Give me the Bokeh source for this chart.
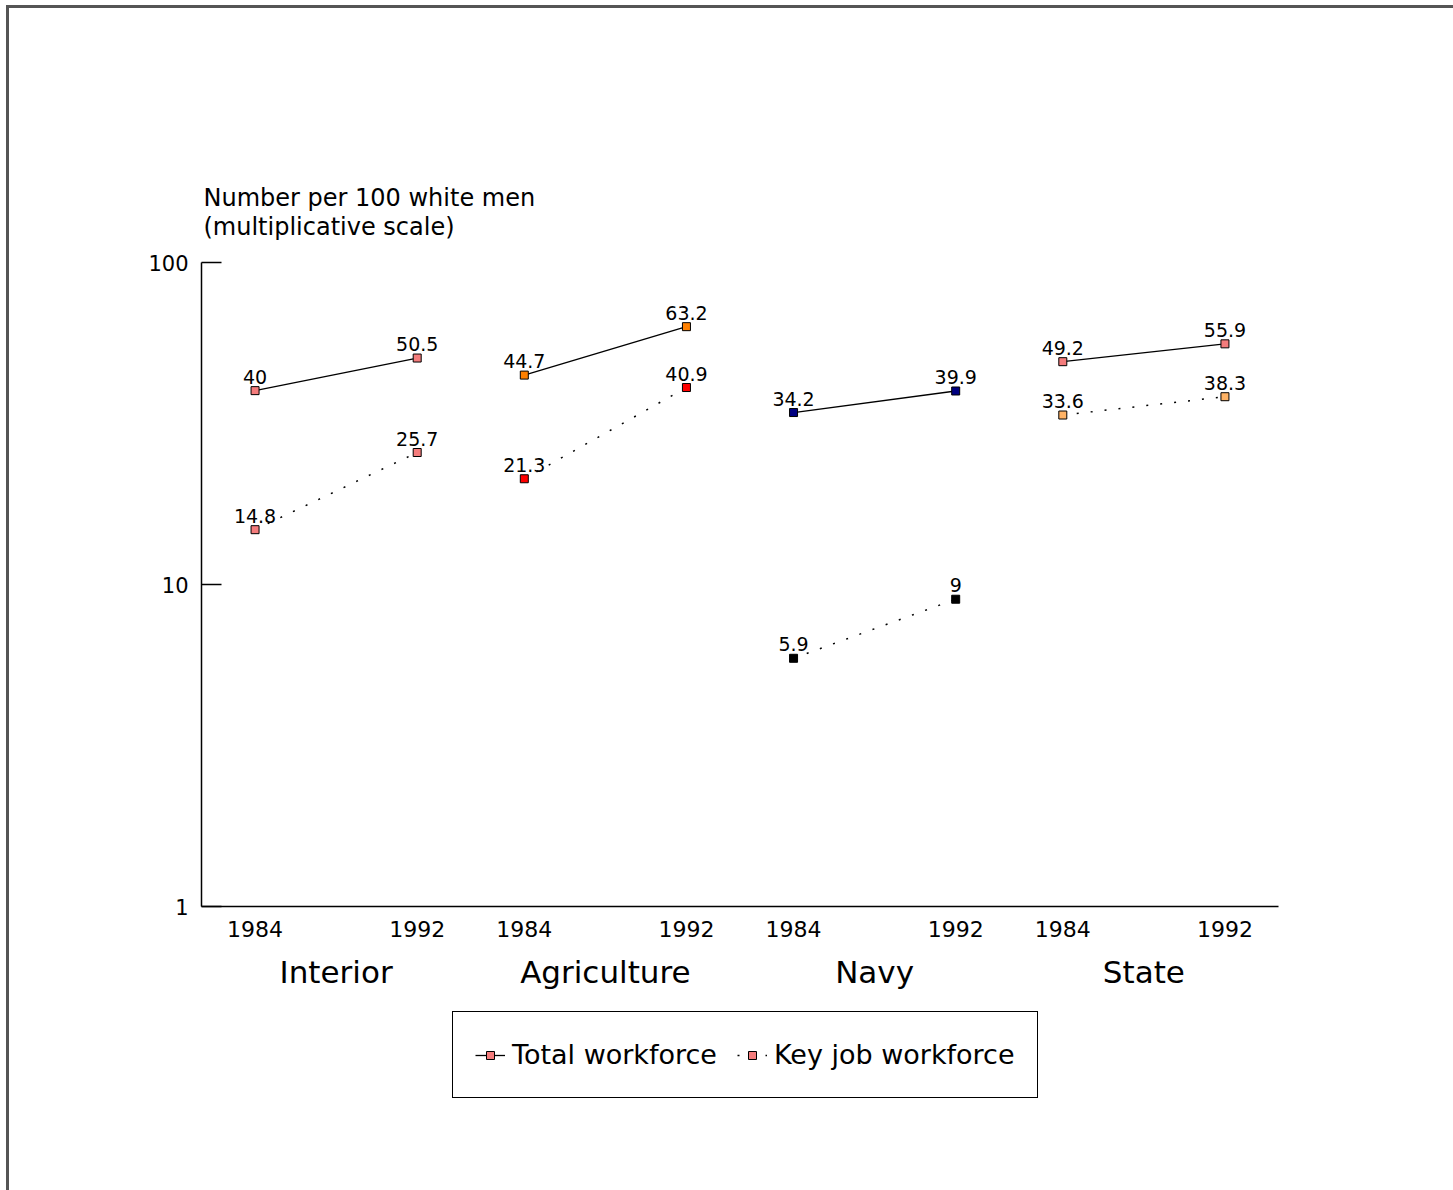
from bokeh.plotting import figure
from bokeh.layouts import column
from bokeh.models import (FactorRange, Range1d, FixedTicker, PrintfTickFormatter, Title,
                          Legend, LegendItem, ColumnDataSource)
from bokeh.core.properties import value
from bokeh.embed import file_html
from bokeh.resources import INLINE

# ---------------- data ----------------
departments = ["Interior", "Agriculture", "Navy", "State"]
years = ["1984", "1992"]
total_1984 = [40, 44.7, 34.2, 49.2]
total_1992 = [50.5, 63.2, 39.9, 55.9]
key_1984 = [14.8, 21.3, 5.9, 33.6]
key_1992 = [25.7, 40.9, 9, 38.3]
y_ticks = [1, 10, 100]
axis_title = ["Number per 100 white men", "(multiplicative scale)"]
series_names = ["Total workforce", "Key job workforce"]

# marker colours per department
total_colors = ["#f47c7c", "#ff8000", "#000080", "#f47c7c"]
key_colors = ["#f47c7c", "#ff0000", "#000000", "#ffb366"]
legend_color = "#f47c7c"

FONT = "DejaVu Sans"

factors = [(d, y) for d in departments for y in years]
x_range = FactorRange(*factors, factor_padding=0.514, group_padding=0, range_padding=0)

p = figure(width=1444, height=997, x_range=x_range, y_range=Range1d(1, 100),
           y_axis_type="log", output_backend="svg", toolbar_location=None,
           min_border_left=192, min_border_right=175, min_border_top=254,
           min_border_bottom=99, outline_line_color=None)
p.title.visible = False
p.xgrid.visible = False
p.ygrid.visible = False

# y axis
ya = p.yaxis[0]
ya.ticker = FixedTicker(ticks=y_ticks, minor_ticks=[])
ya.formatter = PrintfTickFormatter(format="%d")
ya.major_tick_in = 20
ya.major_tick_out = 0
ya.minor_tick_in = 0
ya.minor_tick_out = 0
ya.major_label_standoff = 13
ya.major_label_text_font = FONT
ya.major_label_text_font_size = "21px"
ya.major_label_text_color = "black"
ya.axis_line_width = 1.5
ya.major_tick_line_width = 1.5

# x axis
xa = p.xaxis[0]
xa.major_tick_line_color = None
xa.major_tick_in = 0
xa.major_tick_out = 0
xa.major_label_standoff = 14
xa.major_label_text_font = FONT
xa.major_label_text_font_size = "22px"
xa.major_label_text_color = "black"
xa.group_text_font = FONT
xa.group_text_font_size = "31px"
xa.group_text_font_style = "normal"
xa.group_text_color = "black"
xa.separator_line_color = None
xa.axis_line_width = 1.5

# lines
seg_src = ColumnDataSource(dict(
    x0=[(d, years[0]) for d in departments],
    x1=[(d, years[1]) for d in departments],
    t0=total_1984, t1=total_1992, k0=key_1984, k1=key_1992,
))
p.segment(x0="x0", y0="t0", x1="x1", y1="t1", source=seg_src,
          line_color="black", line_width=1.3)
p.segment(x0="x0", y0="k0", x1="x1", y1="k1", source=seg_src,
          line_color="black", line_width=1.5, line_dash="2 12")

# markers and value labels
xs, vals, cols = [], [], []
for i, d in enumerate(departments):
    for yr, v in zip(years, [total_1984[i], total_1992[i]]):
        xs.append((d, yr)); vals.append(v); cols.append(total_colors[i])
    for yr, v in zip(years, [key_1984[i], key_1992[i]]):
        xs.append((d, yr)); vals.append(v); cols.append(key_colors[i])
pt_src = ColumnDataSource(dict(x=xs, y=vals, c=cols, t=[f"{v:g}" for v in vals]))
p.scatter(x="x", y="y", source=pt_src, marker="square", size=8,
          fill_color="c", line_color="black", line_width=1)
p.text(x="x", y="y", text="t", source=pt_src, text_align="center",
       text_baseline="alphabetic", y_offset=-14, text_font=value(FONT),
       text_font_size="19px", text_color="black")

# axis title (two lines above the frame)
p.add_layout(Title(text="\n".join(axis_title), align="left", offset=2, standoff=42,
                   text_font=FONT, text_font_size="24px", text_font_style="normal",
                   text_line_height=1.05, text_color="black"), "above")

# legend in a second, axis-less strip below the chart
p2 = figure(width=1444, height=185, x_range=Range1d(0, 1), y_range=Range1d(0, 1),
            x_axis_type=None, y_axis_type=None, output_backend="svg",
            toolbar_location=None, min_border=0, outline_line_color=None)
p2.title.visible = False
hidden_x = [5, 6]
hidden_y = [5, 6]
l1 = p2.line(x=hidden_x, y=hidden_y, line_color="black", line_width=1.3)
s1 = p2.scatter(x=hidden_x, y=hidden_y, marker="square", size=8,
                fill_color=legend_color, line_color="black")
l2 = p2.line(x=hidden_x, y=hidden_y, line_color="black", line_width=1.5,
             line_dash="2 12")
s2 = p2.scatter(x=hidden_x, y=hidden_y, marker="square", size=8,
                fill_color=legend_color, line_color="black")
legend = Legend(items=[LegendItem(label=series_names[0], renderers=[l1, s1]),
                       LegendItem(label=series_names[1], renderers=[l2, s2])],
                orientation="horizontal", location=(251, 92), padding=22,
                spacing=20, glyph_width=30, glyph_height=20, label_height=41,
                label_standoff=7, label_text_font=FONT, label_text_font_size="27px",
                label_text_color="black", border_line_color="black",
                border_line_width=1, border_line_alpha=1, margin=0)
p2.add_layout(legend)

layout = column(p, p2, spacing=0,
                styles={"border-left": "3px solid #555555",
                        "border-top": "3px solid #555555",
                        "margin-left": "6px", "margin-top": "5px"})

open("out.html", "w").write(file_html(layout, INLINE))
